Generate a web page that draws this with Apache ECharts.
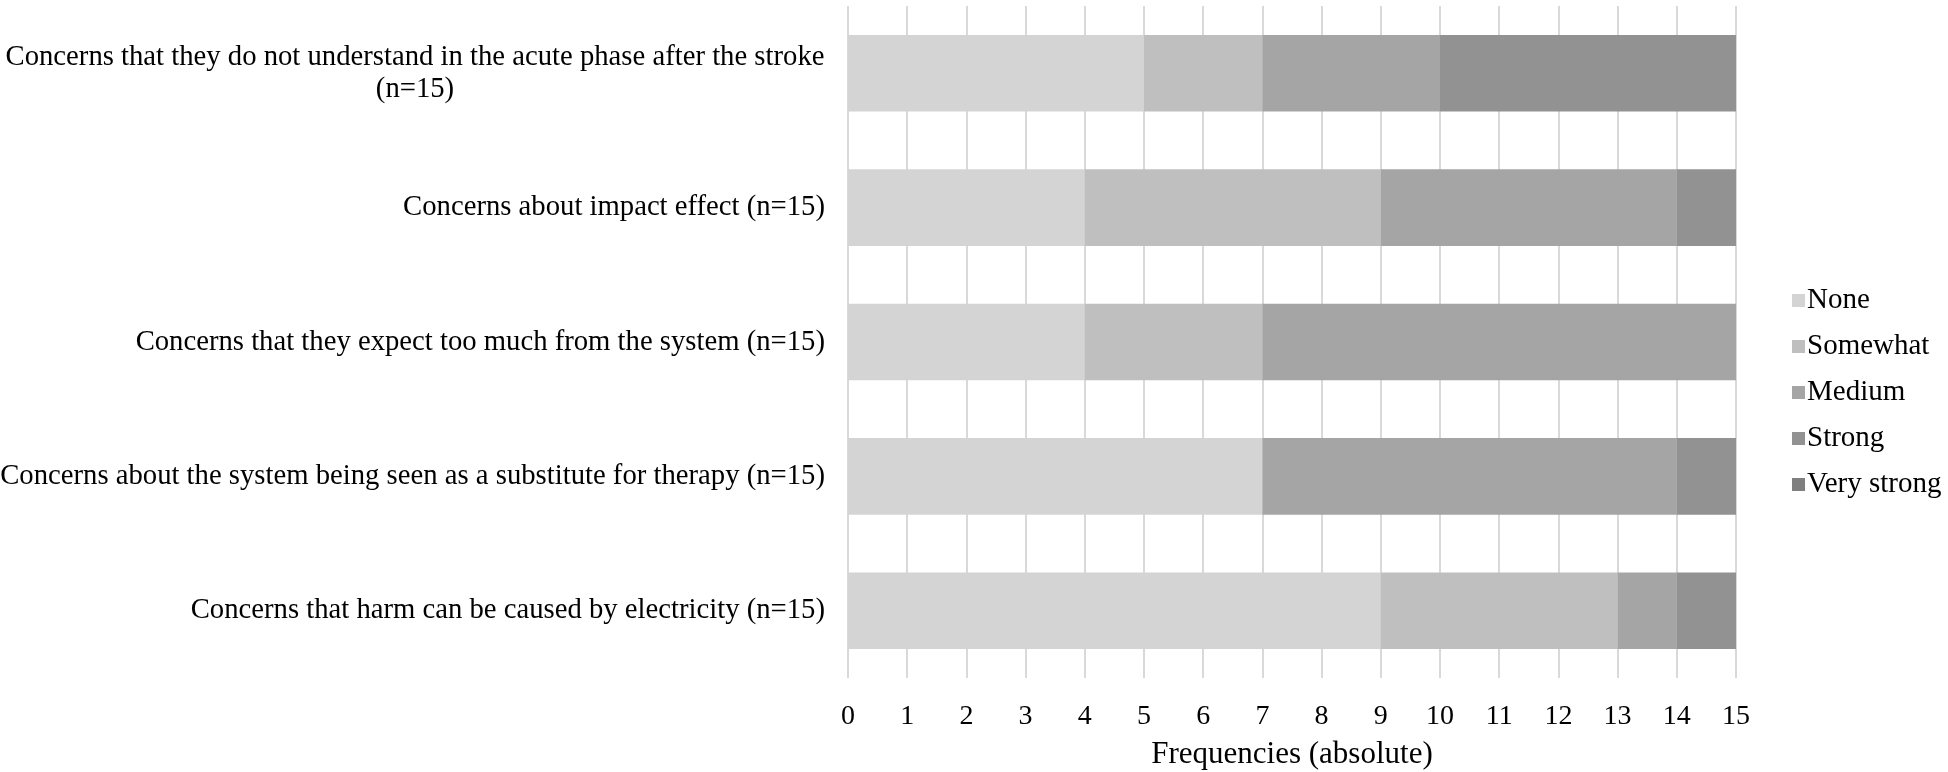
<!DOCTYPE html>
<html>
<head>
<meta charset="utf-8">
<script src="https://cdn.jsdelivr.net/npm/echarts@6/dist/echarts.min.js"></script>
<style>
  html, body { margin: 0; padding: 0; background: #fff; }
  #myChart { width: 1948px; height: 772px; }
</style>
</head>
<body>
<div id="myChart"></div>
<script>
// categories, top to bottom as in the picture
const categories = [
    'Concerns that they do not understand in the acute phase after the stroke\n(n=15)',
    'Concerns about impact effect (n=15)',
    'Concerns that they expect too much from the system (n=15)',
    'Concerns about the system being seen as a substitute for therapy (n=15)',
    'Concerns that harm can be caused by electricity (n=15)'
]
const legendData = ['None', 'Somewhat', 'Medium', 'Strong', 'Very strong']
const colors = ['#d4d4d4', '#bfbfbf', '#a5a5a5', '#929292', '#7f7f7f']

const noneVals = [5, 4, 4, 7, 9]
const somewhatVals = [2, 5, 3, 0, 4]
const mediumVals = [3, 5, 8, 7, 1]
const strongVals = [5, 1, 0, 1, 1]
const veryStrongVals = [0, 0, 0, 0, 0]

const xTicks = [0, 1, 2, 3, 4, 5, 6, 7, 8, 9, 10, 11, 12, 13, 14, 15]

const font = '"Liberation Serif", "Times New Roman", serif'
const seriesVals = [noneVals, somewhatVals, mediumVals, strongVals, veryStrongVals]

let series = []
legendData.forEach((name, i) => {
    series.push({
        name: name,
        type: 'bar',
        stack: 'total',
        barCategoryGap: '43%',
        itemStyle: { color: colors[i] },
        emphasis: { disabled: true },
        data: seriesVals[i]
    })
})

let myChart = echarts.init(document.getElementById('myChart'))
let option = {
    animation: false,
    textStyle: { fontFamily: font },
    grid: { left: 848, right: 212, top: 6, bottom: 94, containLabel: false, outerBoundsMode: 'none' },
    legend: {
        data: legendData,
        orient: 'vertical',
        left: 1787,
        top: 281,
        itemWidth: 13,
        itemHeight: 13,
        itemGap: 17,
        icon: 'rect',
        textStyle: { fontFamily: font, fontSize: 29, color: '#000', padding: [0, 0, 0, -3] }
    },
    xAxis: {
        type: 'value',
        min: xTicks[0],
        max: xTicks[xTicks.length - 1],
        interval: 1,
        name: 'Frequencies (absolute)',
        nameLocation: 'middle',
        nameGap: 61,
        nameTextStyle: { fontFamily: font, fontSize: 31, color: '#000' },
        axisLine: { show: false },
        axisTick: { show: false },
        axisLabel: { fontFamily: font, fontSize: 28, color: '#000', margin: 25 },
        splitLine: { show: true, lineStyle: { color: '#d9d9d9', width: 2 } }
    },
    yAxis: {
        type: 'category',
        inverse: true,
        data: categories,
        axisLine: { show: false },
        axisTick: { show: false },
        axisLabel: {
            fontFamily: font, fontSize: 28.7, color: '#000', margin: 23,
            align: 'right', lineHeight: 32,
            formatter: function (value) {
                if (value.indexOf('\n') < 0) return value
                return value.split('\n').map(s => '{c|' + s + '}').join('\n')
            },
            rich: {
                c: { fontFamily: font, fontSize: 28.7, color: '#000', width: 820, align: 'center', lineHeight: 32 }
            }
        }
    },
    series: series
}
myChart.setOption(option)
</script>
</body>
</html>
